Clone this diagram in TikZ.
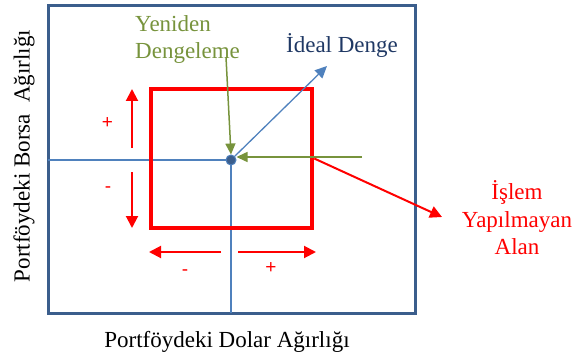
\documentclass[tikz,border=0pt]{standalone}
\usepackage{fontspec}
\setmainfont{Liberation Serif}
\newfontfamily\arialfont{Liberation Sans}
\usetikzlibrary{arrows.meta}
\definecolor{framec}{HTML}{3B5E8C}
\definecolor{linec}{HTML}{4F81BD}
\definecolor{greenc}{HTML}{77933C}
\definecolor{idealc}{HTML}{1F3864}
\begin{document}
\begin{tikzpicture}[x=1pt,y=-1pt,
  big/.style={font=\fontsize{23}{27.5}\selectfont, inner sep=0pt},
  sign/.style={font=\arialfont\fontsize{19}{19}\selectfont, text=red, inner sep=0pt},
  redarrow/.style={draw=red, line width=2pt, -{Triangle[length=12pt,width=12pt]}},
  greenarrow/.style={draw=greenc, line width=1.5pt, -{Triangle[length=11pt,width=10pt]}},
  bluearrow/.style={draw=linec, line width=1.3pt, -{Triangle[length=12pt,width=11pt]}},
  axisline/.style={draw=linec, line width=1.2pt}]
\useasboundingbox (0,0) rectangle (572,358);
% outer frame
\node[draw=framec, line width=3pt, minimum width=367pt, minimum height=307pt, inner sep=0pt] (frame) at (231.5,159.5) {};
% axes
\node[circle, fill=framec, draw=linec, line width=1pt, minimum size=10pt, inner sep=0pt] (c) at (231,160) {};
\coordinate (hl) at (48,160);
\coordinate (vb) at (231,313);
\draw[axisline] (hl) -- (c.west);
\draw[axisline] (c.south) -- (vb);
% red square (no-trade area)
\node[draw=red, line width=4.5pt, minimum width=161pt, minimum height=139pt, inner sep=0pt] (area) at (231.5,158.5) {};
% labels
\node[big, text=greenc, align=left, anchor=west] (yd) at (135,39.5) {Yeniden\\Dengeleme};
\node[big, text=idealc] (ideal) at (342,45) {İdeal Denge};
\node[big, text=red, align=center] (islem) at (517,218) {İşlem\\Yapılmayan\\Alan};
\node[big, rotate=90] (ylab) at (24,156) {Portföydeki Borsa\ \ Ağırlığı};
\node[big] (xlab) at (227,342) {Portföydeki Dolar Ağırlığı};
% arrows toward / from the centre
\coordinate (g1) at (226,57);
\coordinate (g2) at (362,157);
\coordinate (b1) at (327,66);
\coordinate (r1) at (442,217);
\draw[greenarrow] (g1) -- (c.north);
\draw[greenarrow] (g2) -- (g2 -| c.east);
\draw[bluearrow] (c.north east) -- (b1);
\draw[redarrow] (area.east) -- (r1);
% direction arrows
\coordinate (u0) at (132,148); \coordinate (u1) at (132,89);
\coordinate (d0) at (132,172); \coordinate (d1) at (132,228);
\coordinate (l0) at (221,252); \coordinate (l1) at (149,252);
\coordinate (p0) at (238,252); \coordinate (p1) at (316,252);
\draw[redarrow] (u0) -- (u1);
\draw[redarrow] (d0) -- (d1);
\draw[redarrow] (l0) -- (l1);
\draw[redarrow] (p0) -- (p1);
\node[sign] (s1) at (107.5,123) {+};
\node[sign] (s2) at (108,190) {-};
\node[sign] (s3) at (185,273) {-};
\node[sign] (s4) at (271,268) {+};
\end{tikzpicture}
\end{document}
